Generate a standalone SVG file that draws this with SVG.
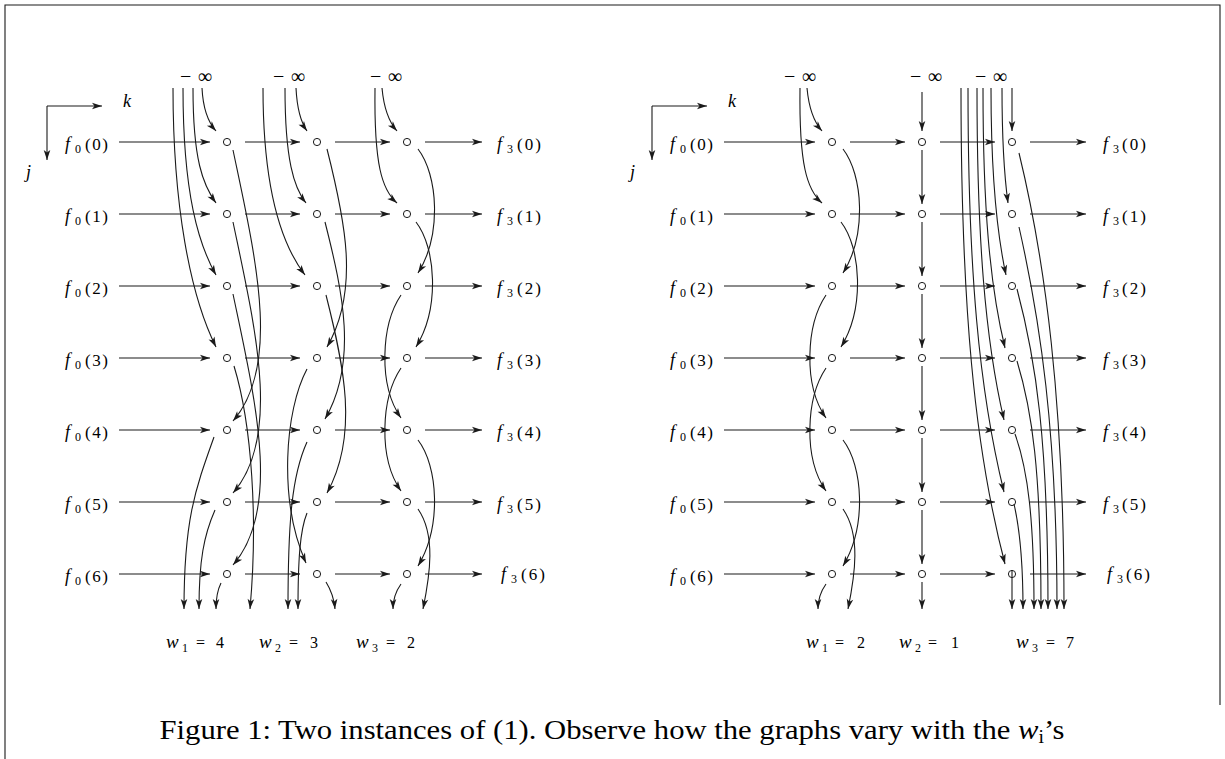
<svg xmlns="http://www.w3.org/2000/svg" width="1225" height="759" viewBox="0 0 1225 759">
<style>
.ln{fill:none;stroke:#1a1a1a;stroke-width:1.1}
.nd{fill:none;stroke:#1a1a1a;stroke-width:1}
text{font-family:"Liberation Serif","DejaVu Serif",serif;fill:#000}
.it{font-style:italic}
.f{font-size:18px;font-style:italic}
.sb{font-size:12px}
.pr{font-size:17px}
.inf{font-size:20px}
.w{font-size:19px;font-style:italic}
.eq{font-size:16px}
.cap{font-size:28px}
</style>
<defs>
<marker id="ah" viewBox="-11 -5 12 10" refX="0" refY="0" markerWidth="12" markerHeight="10" markerUnits="userSpaceOnUse" orient="auto">
<path d="M0,0 L-10,-3.3 L-7.5,0 L-10,3.3 Z" fill="#1a1a1a"/>
</marker>
</defs>
<rect width="1225" height="759" fill="#fff"/>
<path class="ln" d="M5,759 V5 H1220 V705" stroke-width="1.5"/>

<g id="axes" class="ln" marker-end="url(#ah)">
<path d="M47,106 H102"/><path d="M47,106 V160"/>
<path d="M652,106 H707"/><path d="M652,106 V160"/>
</g>

<g id="connectors" class="ln" marker-end="url(#ah)">
<path d="M119,142H210"/><path d="M245,142H300"/><path d="M335,142H390"/><path d="M425,142H482"/>
<path d="M119,214H210"/><path d="M245,214H300"/><path d="M335,214H390"/><path d="M425,214H482"/>
<path d="M119,286H210"/><path d="M245,286H300"/><path d="M335,286H390"/><path d="M425,286H482"/>
<path d="M119,358H210"/><path d="M245,358H300"/><path d="M335,358H390"/><path d="M425,358H482"/>
<path d="M119,430H210"/><path d="M245,430H300"/><path d="M335,430H390"/><path d="M425,430H482"/>
<path d="M119,502H210"/><path d="M245,502H300"/><path d="M335,502H390"/><path d="M425,502H482"/>
<path d="M119,574H210"/><path d="M245,574H300"/><path d="M335,574H390"/><path d="M425,574H482"/>
<path d="M724,142H815"/><path d="M850,142H905"/><path d="M940,142H995"/><path d="M1030,142H1086"/>
<path d="M724,214H815"/><path d="M850,214H905"/><path d="M940,214H995"/><path d="M1030,214H1086"/>
<path d="M724,286H815"/><path d="M850,286H905"/><path d="M940,286H995"/><path d="M1030,286H1086"/>
<path d="M724,358H815"/><path d="M850,358H905"/><path d="M940,358H995"/><path d="M1030,358H1086"/>
<path d="M724,430H815"/><path d="M850,430H905"/><path d="M940,430H995"/><path d="M1030,430H1086"/>
<path d="M724,502H815"/><path d="M850,502H905"/><path d="M940,502H995"/><path d="M1030,502H1086"/>
<path d="M724,574H815"/><path d="M850,574H905"/><path d="M940,574H995"/><path d="M1030,574H1086"/>

<path d="M202,88 C203,108 207,121 216,131"/>
<path d="M193,88 C193,160 203,185 216,203"/>
<path d="M183,88 C183,195 199,245 216,275"/>
<path d="M173,88 C173,205 190,295 216,347"/>
<path d="M233,150 C255,255 282,365 233,421"/>
<path d="M233,222 C255,327 282,437 233,493"/>
<path d="M233,294 C255,399 282,509 233,565"/>
<path d="M234,366 C252,425 258,520 250,609"/>
<path d="M214,437 C195,490 184,520 184,609"/>
<path d="M215,510 C204,535 199,560 199,609"/>
<path d="M221,583 C217,591 216,598 216,609"/>
<path d="M296,88 C297,108 300,121 307,131"/>
<path d="M285,88 C285,160 294,188 306,203"/>
<path d="M263,88 C263,190 282,245 305,275"/>
<path d="M327,149 C345,220 360,290 327,347"/>
<path d="M325,222 C343,293 358,362 325,419"/>
<path d="M326,295 C344,366 359,435 327,493"/>
<path d="M307,369 C285,410 278,500 306,563"/>
<path d="M307,442 C292,475 288,520 288,609"/>
<path d="M307,513 C300,530 298,560 298,609"/>
<path d="M326,582 C331,590 334,598 335,609"/>
<path d="M382,88 C384,110 389,122 397,131"/>
<path d="M375,88 C374,165 382,190 397,203"/>
<path d="M418,149 C438,175 442,235 418,273"/>
<path d="M416,222 C436,248 440,308 416,347"/>
<path d="M401,295 C381,325 378,385 401,418"/>
<path d="M401,368 C381,398 378,458 401,491"/>
<path d="M418,440 C438,466 442,526 418,566"/>
<path d="M418,509 C436,535 430,575 423,609"/>
<path d="M401,584 C396,591 393,598 393,609"/>

<path d="M807,88 C809,110 814,122 822,131"/>
<path d="M800,88 C799,165 807,190 822,203"/>
<path d="M843,149 C863,175 867,235 843,273"/>
<path d="M841,222 C861,248 865,308 841,347"/>
<path d="M826,295 C806,325 803,385 826,418"/>
<path d="M826,368 C806,398 803,458 826,491"/>
<path d="M843,440 C863,466 867,526 843,566"/>
<path d="M843,509 C861,535 855,575 848,609"/>
<path d="M826,584 C821,591 818,598 818,609"/>
<path d="M922,92 V131"/>
<path d="M922,150 V204"/>
<path d="M922,222 V276"/>
<path d="M922,294 V348"/>
<path d="M922,366 V420"/>
<path d="M922,438 V492"/>
<path d="M922,510 V564"/>
<path d="M922,582 V609"/>
<path d="M1012,88 V131"/>
<path d="M1002,88 C1002,140 1004,174 1008,203"/>
<path d="M991,88 C991,171 995.5,227 1006,275"/>
<path d="M983,88 C983,206 989.6,284.5 1005,348"/>
<path d="M977,88 C977,238 985,338.5 1004,420"/>
<path d="M968,88 C968,269 978.8,389.5 1004,492"/>
<path d="M961,88 C961,303.5 974.2,447 1005,564"/>
<path d="M1019,153 C1045,260 1064,400 1064,609"/>
<path d="M1019,227 C1040,320 1057,430 1057,609"/>
<path d="M1017,289 C1036,360 1048,440 1048,609"/>
<path d="M1017,361 C1032,410 1041,470 1041,609"/>
<path d="M1015,434 C1028,470 1034,520 1034,609"/>
<path d="M1014,504 C1020,530 1023,560 1023,609"/>
<path d="M1012,570 V609"/>
</g>

<g id="L-1-0"><circle class="nd" cx="227" cy="142" r="3.6"/></g>
<g id="L-1-1"><circle class="nd" cx="227" cy="214" r="3.6"/></g>
<g id="L-1-2"><circle class="nd" cx="227" cy="286" r="3.6"/></g>
<g id="L-1-3"><circle class="nd" cx="227" cy="358" r="3.6"/></g>
<g id="L-1-4"><circle class="nd" cx="227" cy="430" r="3.6"/></g>
<g id="L-1-5"><circle class="nd" cx="227" cy="502" r="3.6"/></g>
<g id="L-1-6"><circle class="nd" cx="227" cy="574" r="3.6"/></g>
<g id="L-2-0"><circle class="nd" cx="317" cy="142" r="3.6"/></g>
<g id="L-2-1"><circle class="nd" cx="317" cy="214" r="3.6"/></g>
<g id="L-2-2"><circle class="nd" cx="317" cy="286" r="3.6"/></g>
<g id="L-2-3"><circle class="nd" cx="317" cy="358" r="3.6"/></g>
<g id="L-2-4"><circle class="nd" cx="317" cy="430" r="3.6"/></g>
<g id="L-2-5"><circle class="nd" cx="317" cy="502" r="3.6"/></g>
<g id="L-2-6"><circle class="nd" cx="317" cy="574" r="3.6"/></g>
<g id="L-3-0"><circle class="nd" cx="407" cy="142" r="3.6"/></g>
<g id="L-3-1"><circle class="nd" cx="407" cy="214" r="3.6"/></g>
<g id="L-3-2"><circle class="nd" cx="407" cy="286" r="3.6"/></g>
<g id="L-3-3"><circle class="nd" cx="407" cy="358" r="3.6"/></g>
<g id="L-3-4"><circle class="nd" cx="407" cy="430" r="3.6"/></g>
<g id="L-3-5"><circle class="nd" cx="407" cy="502" r="3.6"/></g>
<g id="L-3-6"><circle class="nd" cx="407" cy="574" r="3.6"/></g>
<g id="R-1-0"><circle class="nd" cx="832" cy="142" r="3.6"/></g>
<g id="R-1-1"><circle class="nd" cx="832" cy="214" r="3.6"/></g>
<g id="R-1-2"><circle class="nd" cx="832" cy="286" r="3.6"/></g>
<g id="R-1-3"><circle class="nd" cx="832" cy="358" r="3.6"/></g>
<g id="R-1-4"><circle class="nd" cx="832" cy="430" r="3.6"/></g>
<g id="R-1-5"><circle class="nd" cx="832" cy="502" r="3.6"/></g>
<g id="R-1-6"><circle class="nd" cx="832" cy="574" r="3.6"/></g>
<g id="R-2-0"><circle class="nd" cx="922" cy="142" r="3.6"/></g>
<g id="R-2-1"><circle class="nd" cx="922" cy="214" r="3.6"/></g>
<g id="R-2-2"><circle class="nd" cx="922" cy="286" r="3.6"/></g>
<g id="R-2-3"><circle class="nd" cx="922" cy="358" r="3.6"/></g>
<g id="R-2-4"><circle class="nd" cx="922" cy="430" r="3.6"/></g>
<g id="R-2-5"><circle class="nd" cx="922" cy="502" r="3.6"/></g>
<g id="R-2-6"><circle class="nd" cx="922" cy="574" r="3.6"/></g>
<g id="R-3-0"><circle class="nd" cx="1012" cy="142" r="3.6"/></g>
<g id="R-3-1"><circle class="nd" cx="1012" cy="214" r="3.6"/></g>
<g id="R-3-2"><circle class="nd" cx="1012" cy="286" r="3.6"/></g>
<g id="R-3-3"><circle class="nd" cx="1012" cy="358" r="3.6"/></g>
<g id="R-3-4"><circle class="nd" cx="1012" cy="430" r="3.6"/></g>
<g id="R-3-5"><circle class="nd" cx="1012" cy="502" r="3.6"/></g>
<g id="R-3-6"><circle class="nd" cx="1012" cy="574" r="3.6"/></g>

<g id="L-inf-1"><text class="inf" x="196" y="83" text-anchor="middle" textLength="32" lengthAdjust="spacing">−∞</text></g>
<g id="L-inf-2"><text class="inf" x="289" y="83" text-anchor="middle" textLength="32" lengthAdjust="spacing">−∞</text></g>
<g id="L-inf-3"><text class="inf" x="386" y="83" text-anchor="middle" textLength="32" lengthAdjust="spacing">−∞</text></g>
<g id="R-inf-1"><text class="inf" x="800" y="83" text-anchor="middle" textLength="32" lengthAdjust="spacing">−∞</text></g>
<g id="R-inf-2"><text class="inf" x="926" y="83" text-anchor="middle" textLength="32" lengthAdjust="spacing">−∞</text></g>
<g id="R-inf-3"><text class="inf" x="991" y="83" text-anchor="middle" textLength="32" lengthAdjust="spacing">−∞</text></g>

<text class="f" x="123" y="107">k</text>
<text class="f" x="26" y="178">j</text>
<text class="f" x="728" y="107">k</text>
<text class="f" x="630" y="178">j</text>

<g id="L-f0-0"><text class="f" x="65" y="150">f</text><text class="sb" x="75" y="153">0</text><text class="pr" x="85" y="150" textLength="23" lengthAdjust="spacing">(0)</text></g>
<g id="L-f0-1"><text class="f" x="65" y="222">f</text><text class="sb" x="75" y="225">0</text><text class="pr" x="85" y="222" textLength="23" lengthAdjust="spacing">(1)</text></g>
<g id="L-f0-2"><text class="f" x="65" y="294">f</text><text class="sb" x="75" y="297">0</text><text class="pr" x="85" y="294" textLength="23" lengthAdjust="spacing">(2)</text></g>
<g id="L-f0-3"><text class="f" x="65" y="366">f</text><text class="sb" x="75" y="369">0</text><text class="pr" x="85" y="366" textLength="23" lengthAdjust="spacing">(3)</text></g>
<g id="L-f0-4"><text class="f" x="65" y="438">f</text><text class="sb" x="75" y="441">0</text><text class="pr" x="85" y="438" textLength="23" lengthAdjust="spacing">(4)</text></g>
<g id="L-f0-5"><text class="f" x="65" y="510">f</text><text class="sb" x="75" y="513">0</text><text class="pr" x="85" y="510" textLength="23" lengthAdjust="spacing">(5)</text></g>
<g id="L-f0-6"><text class="f" x="65" y="582">f</text><text class="sb" x="75" y="585">0</text><text class="pr" x="85" y="582" textLength="23" lengthAdjust="spacing">(6)</text></g>
<g id="L-f3-0"><text class="f" x="497" y="150">f</text><text class="sb" x="507" y="153">3</text><text class="pr" x="517" y="150" textLength="24" lengthAdjust="spacing">(0)</text></g>
<g id="L-f3-1"><text class="f" x="497" y="222">f</text><text class="sb" x="507" y="225">3</text><text class="pr" x="517" y="222" textLength="24" lengthAdjust="spacing">(1)</text></g>
<g id="L-f3-2"><text class="f" x="497" y="294">f</text><text class="sb" x="507" y="297">3</text><text class="pr" x="517" y="294" textLength="24" lengthAdjust="spacing">(2)</text></g>
<g id="L-f3-3"><text class="f" x="497" y="366">f</text><text class="sb" x="507" y="369">3</text><text class="pr" x="517" y="366" textLength="24" lengthAdjust="spacing">(3)</text></g>
<g id="L-f3-4"><text class="f" x="497" y="438">f</text><text class="sb" x="507" y="441">3</text><text class="pr" x="517" y="438" textLength="24" lengthAdjust="spacing">(4)</text></g>
<g id="L-f3-5"><text class="f" x="497" y="510">f</text><text class="sb" x="507" y="513">3</text><text class="pr" x="517" y="510" textLength="24" lengthAdjust="spacing">(5)</text></g>
<g id="L-f3-6"><text class="f" x="501" y="580">f</text><text class="sb" x="511" y="583">3</text><text class="pr" x="521" y="580" textLength="24" lengthAdjust="spacing">(6)</text></g>
<g id="R-f0-0"><text class="f" x="670" y="150">f</text><text class="sb" x="680" y="153">0</text><text class="pr" x="690" y="150" textLength="23" lengthAdjust="spacing">(0)</text></g>
<g id="R-f0-1"><text class="f" x="670" y="222">f</text><text class="sb" x="680" y="225">0</text><text class="pr" x="690" y="222" textLength="23" lengthAdjust="spacing">(1)</text></g>
<g id="R-f0-2"><text class="f" x="670" y="294">f</text><text class="sb" x="680" y="297">0</text><text class="pr" x="690" y="294" textLength="23" lengthAdjust="spacing">(2)</text></g>
<g id="R-f0-3"><text class="f" x="670" y="366">f</text><text class="sb" x="680" y="369">0</text><text class="pr" x="690" y="366" textLength="23" lengthAdjust="spacing">(3)</text></g>
<g id="R-f0-4"><text class="f" x="670" y="438">f</text><text class="sb" x="680" y="441">0</text><text class="pr" x="690" y="438" textLength="23" lengthAdjust="spacing">(4)</text></g>
<g id="R-f0-5"><text class="f" x="670" y="510">f</text><text class="sb" x="680" y="513">0</text><text class="pr" x="690" y="510" textLength="23" lengthAdjust="spacing">(5)</text></g>
<g id="R-f0-6"><text class="f" x="670" y="582">f</text><text class="sb" x="680" y="585">0</text><text class="pr" x="690" y="582" textLength="23" lengthAdjust="spacing">(6)</text></g>
<g id="R-f3-0"><text class="f" x="1103" y="150">f</text><text class="sb" x="1113" y="153">3</text><text class="pr" x="1122" y="150" textLength="24" lengthAdjust="spacing">(0)</text></g>
<g id="R-f3-1"><text class="f" x="1103" y="222">f</text><text class="sb" x="1113" y="225">3</text><text class="pr" x="1122" y="222" textLength="24" lengthAdjust="spacing">(1)</text></g>
<g id="R-f3-2"><text class="f" x="1103" y="294">f</text><text class="sb" x="1113" y="297">3</text><text class="pr" x="1122" y="294" textLength="24" lengthAdjust="spacing">(2)</text></g>
<g id="R-f3-3"><text class="f" x="1103" y="366">f</text><text class="sb" x="1113" y="369">3</text><text class="pr" x="1122" y="366" textLength="24" lengthAdjust="spacing">(3)</text></g>
<g id="R-f3-4"><text class="f" x="1103" y="438">f</text><text class="sb" x="1113" y="441">3</text><text class="pr" x="1122" y="438" textLength="24" lengthAdjust="spacing">(4)</text></g>
<g id="R-f3-5"><text class="f" x="1103" y="510">f</text><text class="sb" x="1113" y="513">3</text><text class="pr" x="1122" y="510" textLength="24" lengthAdjust="spacing">(5)</text></g>
<g id="R-f3-6"><text class="f" x="1107" y="580">f</text><text class="sb" x="1117" y="583">3</text><text class="pr" x="1126" y="580" textLength="24" lengthAdjust="spacing">(6)</text></g>

<g id="L-w1"><text class="w" x="166" y="648">w</text><text class="sb" x="182" y="652">1</text><text class="eq" x="196" y="648">=</text><text class="eq" x="216" y="648">4</text></g>
<g id="L-w2"><text class="w" x="259" y="648">w</text><text class="sb" x="275" y="652">2</text><text class="eq" x="289" y="648">=</text><text class="eq" x="310" y="648">3</text></g>
<g id="L-w3"><text class="w" x="356" y="648">w</text><text class="sb" x="372" y="652">3</text><text class="eq" x="386" y="648">=</text><text class="eq" x="407" y="648">2</text></g>
<g id="R-w1"><text class="w" x="806" y="648">w</text><text class="sb" x="822" y="652">1</text><text class="eq" x="835" y="648">=</text><text class="eq" x="857" y="648">2</text></g>
<g id="R-w2"><text class="w" x="899" y="648">w</text><text class="sb" x="915" y="652">2</text><text class="eq" x="928" y="648">=</text><text class="eq" x="951" y="648">1</text></g>
<g id="R-w3"><text class="w" x="1016" y="648">w</text><text class="sb" x="1032" y="652">3</text><text class="eq" x="1046" y="648">=</text><text class="eq" x="1066" y="648">7</text></g>

<text class="cap" x="612" y="739" text-anchor="middle" textLength="905" lengthAdjust="spacingAndGlyphs">Figure 1: Two instances of (1). Observe how the graphs vary with the <tspan class="it">w</tspan><tspan font-size="18" dy="4">i</tspan><tspan dy="-4">’s</tspan></text>
</svg>
